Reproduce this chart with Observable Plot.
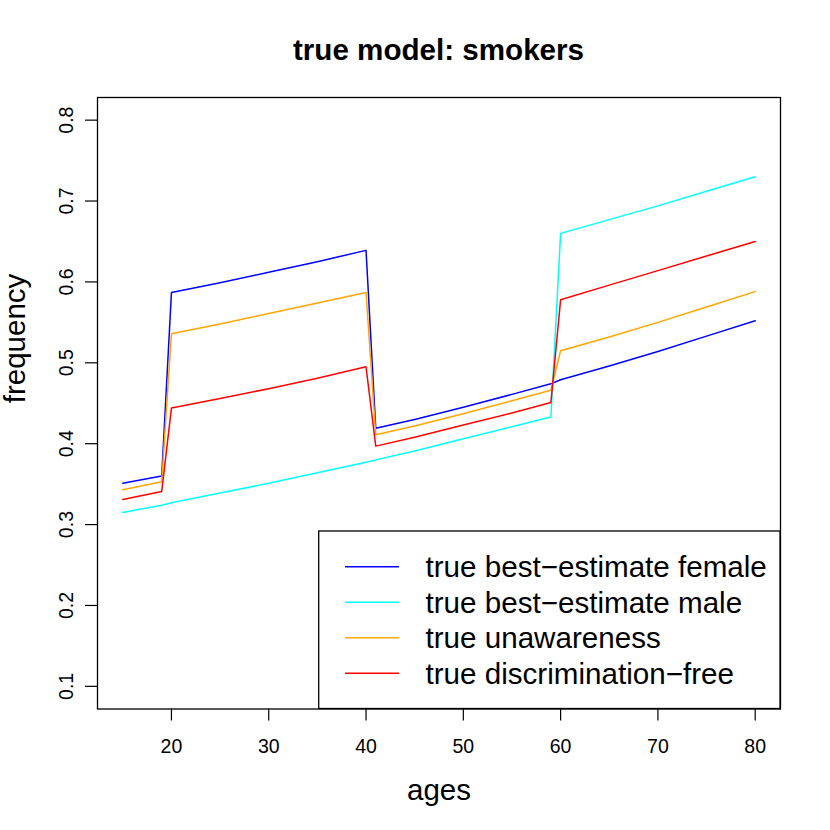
<!DOCTYPE html>
<html>
<head>
<meta charset="utf-8">
<script src="https://cdn.jsdelivr.net/npm/d3@7"></script>
<script src="https://cdn.jsdelivr.net/npm/@observablehq/plot@0.6"></script>
<style>
  html, body { margin: 0; padding: 0; background: white; }
  #wrap { position: relative; width: 830px; height: 830px; font-family: "Liberation Sans", Arial, Helvetica, sans-serif; }
  #title { box-sizing: border-box; height: 72px; padding-top: 34.5px; font-size: 29.6px; line-height: 29.6px; font-weight: bold; text-align: center; padding-left: 97px; padding-right: 50px; color: black; }
  #legend { position: absolute; left: 0; top: 0; pointer-events: none; }
</style>
</head>
<body>
<div id="wrap">
  <div id="title">true model: smokers</div>
  <div id="chart"></div>
</div>
<script>
// ---- data ----
const ages        = [15,    19,    20,    25,    30,    35,    40,    41,    45,    50,    55,    59,    60,    65,    70,    75,    80];
const femaleBE    = [0.351, 0.360, 0.587, 0.599, 0.612, 0.625, 0.639, 0.419, 0.430, 0.445, 0.461, 0.474, 0.479, 0.496, 0.514, 0.533, 0.552];
const maleBE      = [0.315, 0.324, 0.327, 0.339, 0.351, 0.364, 0.377, 0.380, 0.391, 0.406, 0.421, 0.433, 0.660, 0.677, 0.694, 0.712, 0.730];
const unaware     = [0.343, 0.353, 0.536, 0.548, 0.561, 0.574, 0.587, 0.411, 0.422, 0.437, 0.453, 0.466, 0.515, 0.532, 0.550, 0.569, 0.588];
const discrimFree = [0.331, 0.341, 0.444, 0.456, 0.468, 0.481, 0.495, 0.397, 0.408, 0.423, 0.438, 0.451, 0.578, 0.596, 0.614, 0.632, 0.650];

const seriesNames  = ["true best\u2212estimate female", "true best\u2212estimate male", "true unawareness", "true discrimination\u2212free"];
const seriesColors = ["#0000FF", "#00FFFF", "#FFA500", "#FF0000"];
const xTicks = [20, 30, 40, 50, 60, 70, 80];
const yTicks = [0.1, 0.2, 0.3, 0.4, 0.5, 0.6, 0.7, 0.8];

const rows = [];
[femaleBE, maleBE, unaware, discrimFree].forEach((vals, k) =>
  ages.forEach((a, i) => rows.push({age: a, freq: vals[i], series: seriesNames[k]})));

const FONT = "'Liberation Sans', Arial, Helvetica, sans-serif";

const chart = Plot.plot({
  width: 830,
  height: 758,
  marginTop: 25,
  marginBottom: 121.5,
  marginLeft: 97,
  marginRight: 50,
  style: {fontFamily: FONT, background: "white", color: "black", overflow: "visible"},
  x: {domain: [12.4, 82.6]},
  y: {domain: [0.072, 0.828]},
  color: {domain: seriesNames, range: seriesColors},
  marks: [
    Plot.axisX({ticks: xTicks, tickSize: 12, tickPadding: 18, fontSize: 19.5, label: null, tickFormat: d => String(d), strokeWidth: 1.2}),
    Plot.axisY({ticks: yTicks, tickSize: 12, tickPadding: 13, tickRotate: -90, fontSize: 19.5, label: null, tickFormat: d => d.toFixed(1), strokeWidth: 1.2}),
    Plot.line(rows, {x: "age", y: "freq", z: "series", stroke: "series", strokeWidth: 1.5}),
    Plot.frame({stroke: "black", strokeWidth: 1.3}),
    Plot.text(["ages"], {frameAnchor: "bottom", dy: 90.8, lineAnchor: "bottom", fontSize: 29.5, text: d => d}),
    Plot.text(["frequency"], {frameAnchor: "left", dx: -73, rotate: -90, lineAnchor: "bottom", fontSize: 29.5, text: d => d})
  ]
});
document.getElementById("chart").appendChild(chart);

// ---- legend (bottom-right box, as in R's legend()) ----
const lg = d3.select("#wrap").append("svg")
  .attr("id", "legend").attr("width", 830).attr("height", 830)
  .style("font-family", FONT);
const boxL = 318.7, boxT = 531, boxR = 780, boxB = 708.5;
lg.append("rect").attr("x", boxL).attr("y", boxT).attr("width", boxR - boxL).attr("height", boxB - boxT)
  .attr("fill", "white").attr("stroke", "black").attr("stroke-width", 1.3);
seriesNames.forEach((name, i) => {
  const yy = 566.7 + 35.5 * i;
  lg.append("line").attr("x1", 345).attr("x2", 399).attr("y1", yy).attr("y2", yy)
    .attr("stroke", seriesColors[i]).attr("stroke-width", 1.5);
  lg.append("text").attr("x", 425.5).attr("y", yy + 10.5).attr("font-size", 29.6).attr("fill", "black").text(name);
});
</script>
</body>
</html>
